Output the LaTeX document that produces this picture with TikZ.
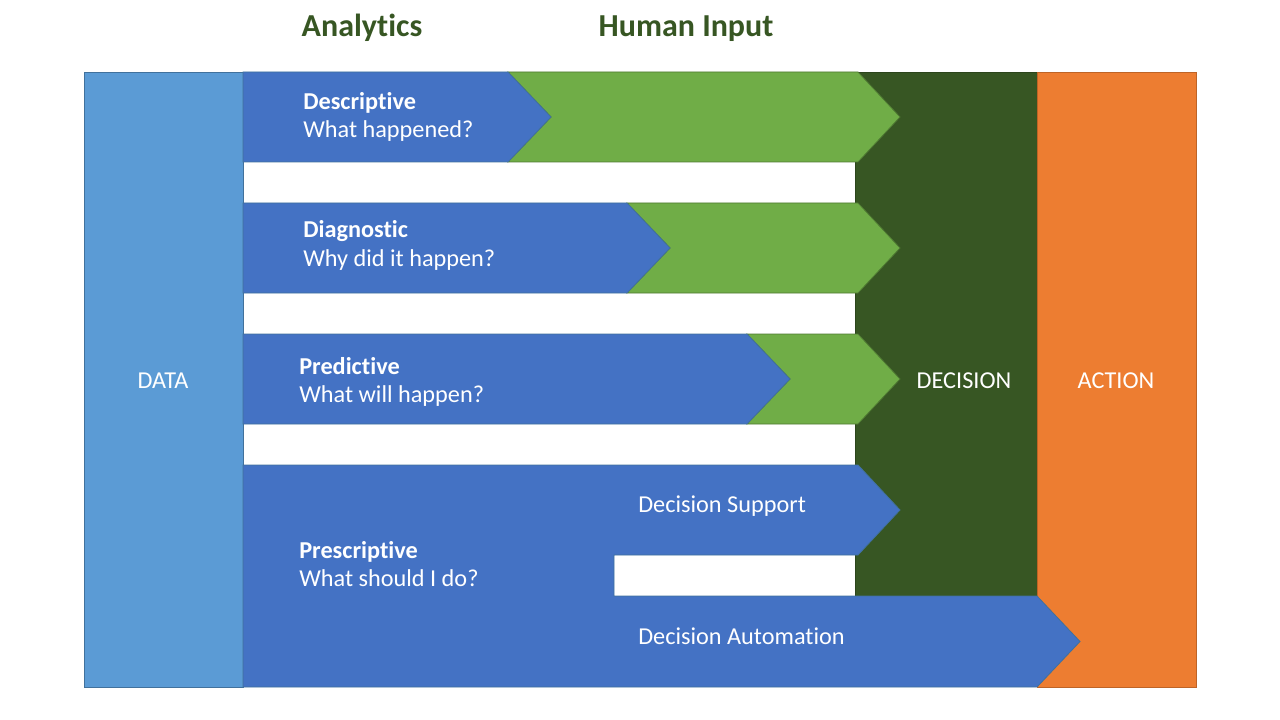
\documentclass[tikz,border=0pt]{standalone}
\usepackage{fontspec}
\setmainfont{Carlito}[Ligatures=NoCommon]
\definecolor{datablue}{HTML}{5B9BD5}
\definecolor{anablue}{HTML}{4472C4}
\definecolor{humgreen}{HTML}{70AD47}
\definecolor{decgreen}{HTML}{375623}
\definecolor{actorange}{HTML}{ED7D31}
\definecolor{edgeblue}{HTML}{41719C}

\begin{document}
\begin{tikzpicture}[x=0.75pt, y=-0.75pt,
  blockline/.style={line width=0.6pt},
  lbl/.style={text=white, inner sep=0pt, anchor=base west, font=\fontsize{18.2}{22}\selectfont},
  bigword/.style={text=white, inner sep=0pt, anchor=base, font=\fontsize{18.2}{22}\selectfont},
  hdr/.style={text=decgreen, inner sep=0pt, anchor=base, font=\fontsize{24}{28}\selectfont\bfseries}]
  \useasboundingbox (0,0) rectangle (1280,720);
  % side blocks: data, decision, action
  \filldraw[blockline, fill=datablue, draw=edgeblue] (84,72) rectangle (243,687);
  \filldraw[blockline, fill=decgreen, draw=decgreen!80!black] (855,72) rectangle (1037,596);
  \filldraw[blockline, fill=actorange, draw=actorange!80!black] (1037,72) rectangle (1196,687);
  % analytics rows with human input chevrons
  \foreach \yt/\xb/\xt/\ya/\yb/\nm/\ttl/\qq in {72/508/303/110/138/desc/Descriptive/What happened?,
      203/627/303/238/266/diag/Diagnostic/Why did it happen?,
      334/747/299/374/402/pred/Predictive/What will happen?} {
    \filldraw[blockline, fill=humgreen, draw=humgreen!70!black]
      (\xb,\yt) -- (858,\yt) -- (900,\yt+45) -- (858,\yt+90) -- (\xb,\yt+90) -- (\xb+43,\yt+45) -- cycle;
    \filldraw[blockline, fill=anablue, draw=edgeblue]
      (243,\yt) -- (\xb,\yt) -- (\xb+43,\yt+45) -- (\xb,\yt+90) -- (243,\yt+90) -- cycle;
    \node[lbl, font=\fontsize{18.2}{22}\selectfont\bfseries] (\nm) at (\xt,\ya) {\ttl};
    \node[lbl] (\nm q) at (\xt,\yb) {\qq};
  }
  % prescriptive: support and automation
  \filldraw[blockline, fill=anablue, draw=edgeblue]
    (243,465) -- (858,465) -- (900,510) -- (858,555) -- (614,555) -- (614,596)
    -- (1037,596) -- (1080,641.5) -- (1037,687) -- (243,687) -- cycle;
  \node[lbl, font=\fontsize{18.2}{22}\selectfont\bfseries] (presc) at (299,558) {Prescriptive};
  \node[lbl] (prescq) at (299,586) {What should I do?};
  \node[lbl] (support) at (638,512) {Decision Support};
  \node[lbl] (auto) at (638,644) {Decision Automation};
  % block words and headers
  \node[bigword] (data) at (163,388) {DATA};
  \node[bigword] (decision) at (964,388) {DECISION};
  \node[bigword] (action) at (1116,388) {ACTION};
  \node[hdr] (analytics) at (362,37) {Analytics};
  \node[hdr] (human) at (686,37) {Human Input};
\end{tikzpicture}
\end{document}
